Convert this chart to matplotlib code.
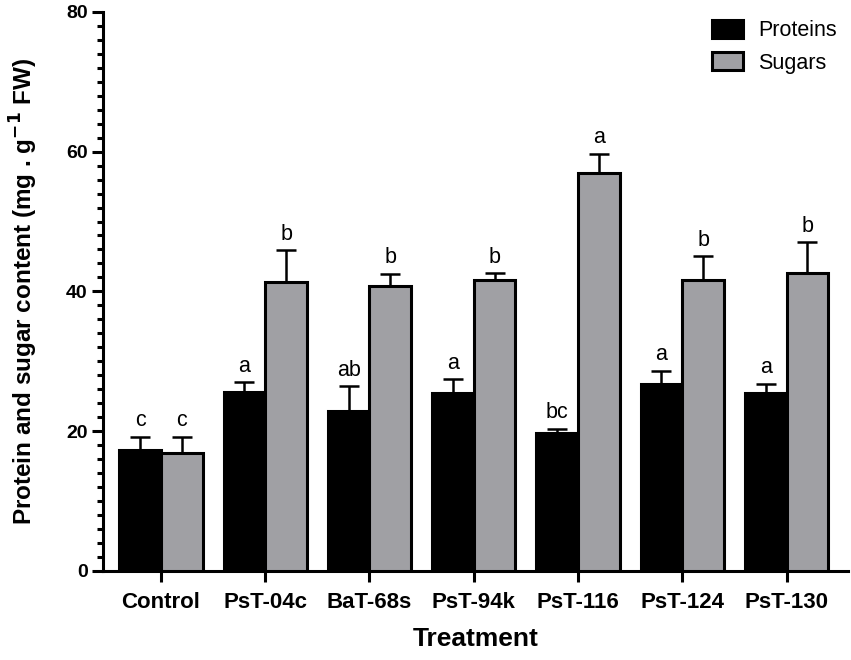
import numpy as np
import matplotlib
matplotlib.use("Agg")
import matplotlib.pyplot as plt
from matplotlib.ticker import MultipleLocator

plt.rcParams['font.family'] = ['Liberation Sans', 'DejaVu Sans']

# data
treatments = ['Control', 'PsT-04c', 'BaT-68s', 'PsT-94k', 'PsT-116', 'PsT-124', 'PsT-130']
proteins = [17.3, 25.6, 22.9, 25.5, 19.8, 26.8, 25.4]
proteins_err = [1.9, 1.4, 3.5, 1.9, 0.5, 1.8, 1.4]
sugars = [16.9, 41.3, 40.8, 41.7, 56.9, 41.6, 42.6]
sugars_err = [2.3, 4.6, 1.7, 0.9, 2.8, 3.4, 4.4]
letters_prot = ['c', 'a', 'ab', 'a', 'bc', 'a', 'a']
letters_sug = ['c', 'b', 'b', 'b', 'a', 'b', 'b']

gray = '#a0a0a4'
w = 0.4
x = np.arange(len(treatments))

fig = plt.figure(figsize=(8.51, 6.6), dpi=100)
ax = fig.add_axes([0.121, 0.135, 0.875, 0.847])

err_kw = dict(elinewidth=1.8, capthick=1.8, capsize=7.5, ecolor='black')
ax.bar(x - w/2, proteins, w, color='black', edgecolor='black', linewidth=2.2,
       yerr=[np.zeros(len(x)), proteins_err], error_kw=err_kw, label='Proteins', zorder=3)
ax.bar(x + w/2, sugars, w, color=gray, edgecolor='black', linewidth=2.2,
       yerr=[np.zeros(len(x)), sugars_err], error_kw=err_kw, label='Sugars', zorder=3)

for i in range(len(x)):
    ax.text(x[i] - w/2, proteins[i] + proteins_err[i] + 0.8, letters_prot[i],
            ha='center', va='bottom', fontsize=15.5)
    ax.text(x[i] + w/2, sugars[i] + sugars_err[i] + 0.8, letters_sug[i],
            ha='center', va='bottom', fontsize=15.5)

ax.set_xlim(-0.556, 6.585)
ax.set_ylim(0, 80)
ax.yaxis.set_major_locator(MultipleLocator(20))
ax.yaxis.set_minor_locator(MultipleLocator(2))

ax.spines['top'].set_visible(False)
ax.spines['right'].set_visible(False)
ax.spines['left'].set_linewidth(2.2)
ax.spines['bottom'].set_linewidth(2.2)

ax.set_xticks(x)
ax.set_xticklabels(treatments, fontsize=16, fontweight='bold')
ax.tick_params(axis='x', length=8, width=2.2, pad=7)
ax.tick_params(axis='y', which='major', length=8, width=2.2, labelsize=14, pad=3)
ax.tick_params(axis='y', which='minor', length=4.5, width=2.2)
for lab in ax.get_yticklabels():
    lab.set_fontweight('bold')

ax.set_xlabel('Treatment', fontsize=19, fontweight='bold', labelpad=10)
ax.set_ylabel('Protein and sugar content (mg . g$^{\\mathbf{-1}}$ FW)', fontsize=17.5,
              fontweight='bold', labelpad=19)

ax.legend(loc='upper left', bbox_to_anchor=(0.792, 1.02), frameon=False, fontsize=15.5,
          handlelength=1.45, handleheight=0.9, handletextpad=0.7, labelspacing=0.5)

fig.savefig('out.png', dpi=100)
